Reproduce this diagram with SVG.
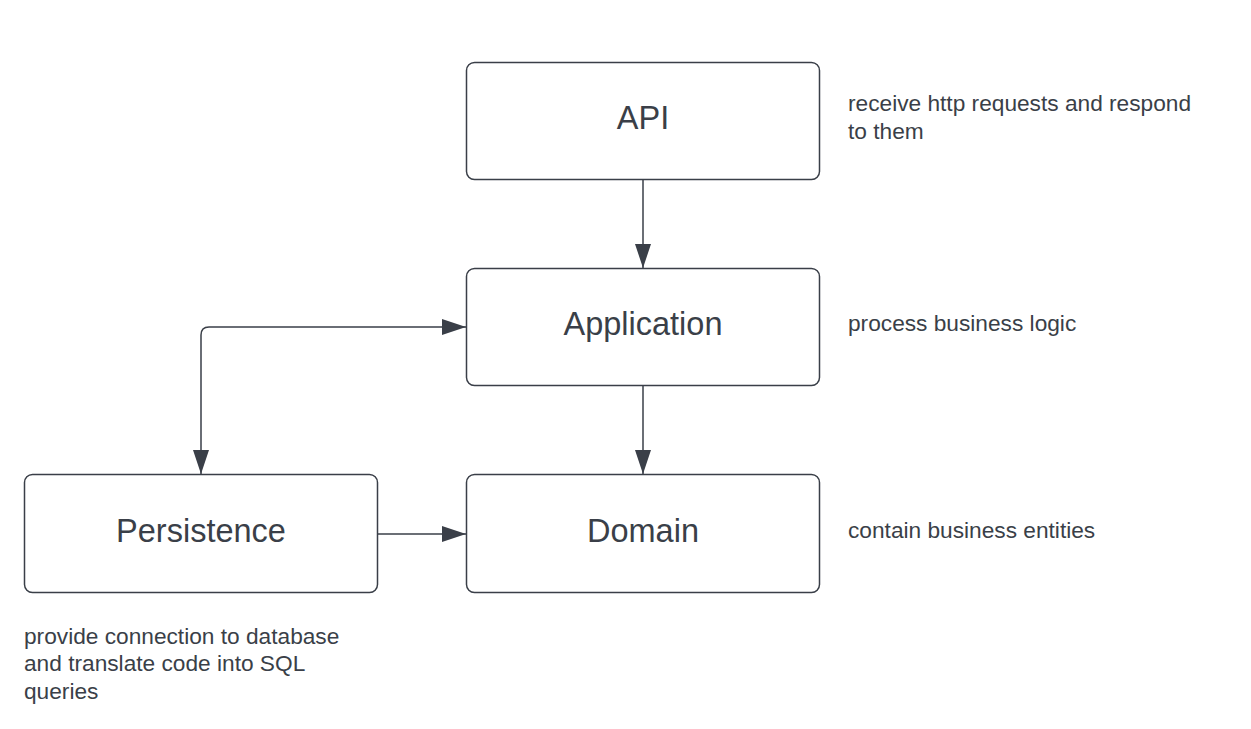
<svg xmlns="http://www.w3.org/2000/svg" width="1251" height="729" viewBox="0 0 1251 729">
<style>
.box{fill:#ffffff;stroke:#3a3f48;stroke-width:1.5}
.lbl{font-family:"Liberation Sans",Arial,sans-serif;font-size:32.5px;fill:#3a3f48;text-anchor:middle}
.note{font-family:"Liberation Sans",Arial,sans-serif;font-size:22.7px;fill:#3a3f48}
.con{fill:none;stroke:#3a3f48;stroke-width:1.5}
</style>
<defs>
<marker id="arr" viewBox="0 0 24 16" refX="24" refY="8" markerWidth="24" markerHeight="16" markerUnits="userSpaceOnUse" orient="auto-start-reverse">
<path d="M0,0 L24,8 L0,16 Z" fill="#3a3f48"/>
</marker>
</defs>
<rect width="1251" height="729" fill="#ffffff"/>
<g id="connectors">
<path class="con" d="M643,180 V268" marker-end="url(#arr)"/>
<path class="con" d="M643,386 V474" marker-end="url(#arr)"/>
<path class="con" d="M378,534 H466" marker-end="url(#arr)"/>
<path class="con" d="M466,327 H209 Q201,327 201,335 V474" marker-start="url(#arr)" marker-end="url(#arr)"/>
</g>
<g id="api">
<rect class="box" x="466.5" y="62.5" width="353" height="117" rx="8"/>
<text class="lbl" x="643" y="129">API</text>
</g>
<g id="application">
<rect class="box" x="466.5" y="268.5" width="353" height="117" rx="8"/>
<text class="lbl" x="643" y="335">Application</text>
</g>
<g id="domain">
<rect class="box" x="466.5" y="474.5" width="353" height="118" rx="8"/>
<text class="lbl" x="643" y="542">Domain</text>
</g>
<g id="persistence">
<rect class="box" x="24.5" y="474.5" width="353" height="118" rx="8"/>
<text class="lbl" x="201" y="542">Persistence</text>
</g>
<g id="notes">
<text class="note" x="848" y="111">receive http requests and respond</text>
<text class="note" x="848" y="139">to them</text>
<text class="note" x="848" y="331">process business logic</text>
<text class="note" x="848" y="538">contain business entities</text>
<text class="note" x="24" y="644">provide connection to database</text>
<text class="note" x="24" y="671">and translate code into SQL</text>
<text class="note" x="24" y="699">queries</text>
</g>
</svg>
